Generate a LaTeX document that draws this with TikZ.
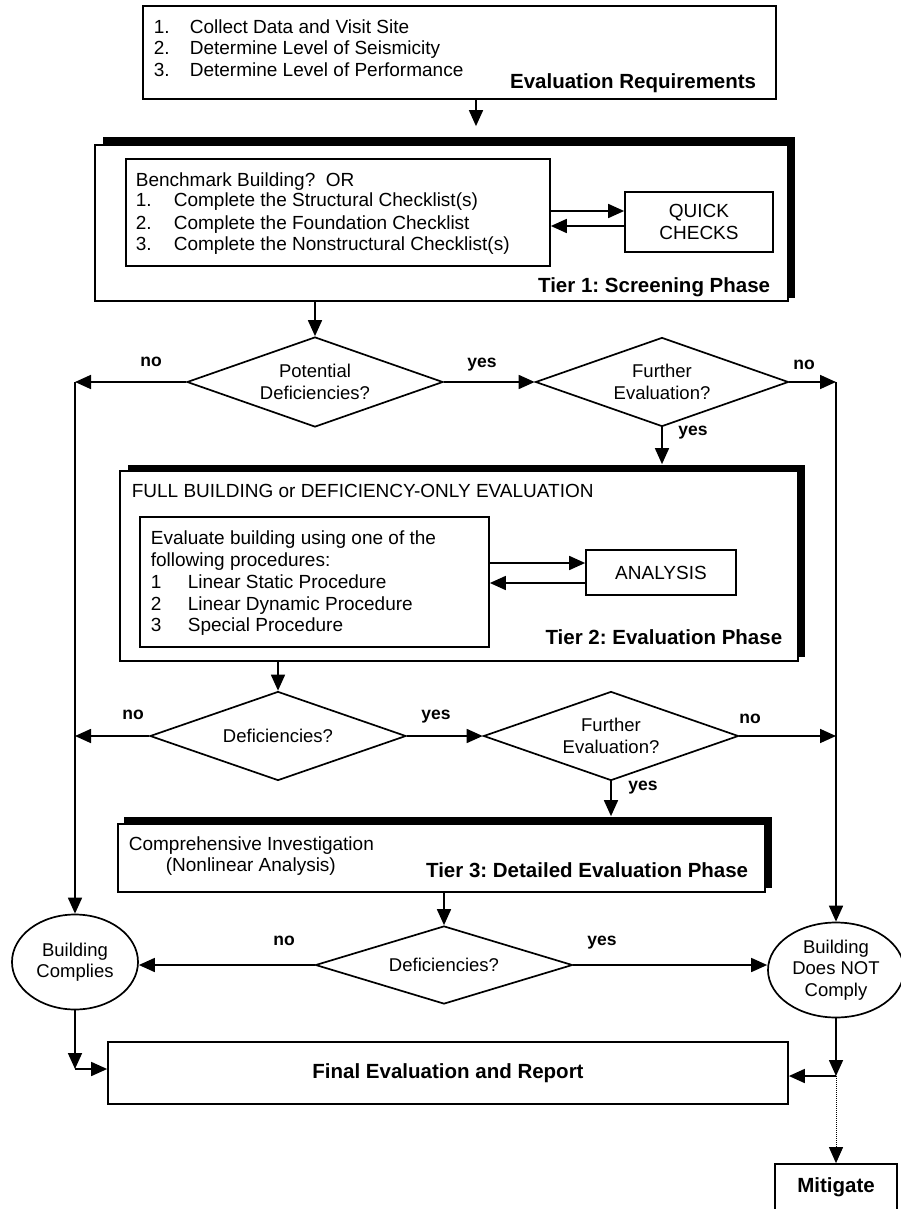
\documentclass[tikz,border=0pt]{standalone}
\usepackage{fontspec}
\setmainfont{Liberation Sans}
\usetikzlibrary{shapes.geometric,arrows.meta,calc}
\newcommand\fsR{\fontsize{19}{21.5}\selectfont}
\newcommand\fsB{\fontsize{20.5}{23}\selectfont\bfseries}
\newcommand\fsL{\fontsize{17.5}{20}\selectfont\bfseries}
\newcommand\fsD{\fontsize{18.5}{21.5}\selectfont}
\frenchspacing
\begin{document}
\begin{tikzpicture}[x=1pt,y=-1pt,line width=1.7pt,
  box/.style={draw,fill=white,rectangle,inner sep=0pt},
  shadowbox/.style={fill=black,draw=none,rectangle,inner sep=0pt},
  dia/.style={draw,diamond,aspect=2.85,inner sep=0pt,font=\fsD,align=center},
  oval/.style={draw,ellipse,inner sep=0pt,font=\fsD,align=center},
  txt/.style={inner sep=0pt,anchor=base west,font=\fsR},
  btxt/.style={inner sep=0pt,anchor=base east,font=\fsB},
  lab/.style={inner sep=0pt,anchor=mid,font=\fsL},
  arr/.style={-{Triangle[length=16pt,width=14pt]}}]
\useasboundingbox (0,0) rectangle (900,1209);

% Evaluation requirements
\node[box,minimum width=633pt,minimum height=93pt] (b1) at (459.5,52.5) {};
\node[txt] (r1n) at (153,34) {1.};
\node[txt] (r1t) at (189,34) {Collect Data and Visit Site};
\node[txt] (r2n) at (153,55) {2.};
\node[txt] (r2t) at (189,55) {Determine Level of Seismicity};
\node[txt] (r3n) at (153,77) {3.};
\node[txt] (r3t) at (189,77) {Determine Level of Performance};
\node[btxt] (rh) at (757,89) {Evaluation Requirements};

% Tier 1
\node[shadowbox,minimum width=692pt,minimum height=161pt] (t1s) at (449,217.5) {};
\node[box,minimum width=693pt,minimum height=156pt] (t1) at (441.5,223) {};
\node[box,minimum width=424pt,minimum height=107pt] (in1) at (338,212.5) {};
\node[txt] (s0) at (135,186) {Benchmark Building?\ \ OR};
\node[txt] (s1n) at (135,207) {1.};
\node[txt] (s1t) at (173,207) {Complete the Structural Checklist(s)};
\node[txt] (s2n) at (135,229) {2.};
\node[txt] (s2t) at (173,229) {Complete the Foundation Checklist};
\node[txt] (s3n) at (135,250) {3.};
\node[txt] (s3t) at (173,250) {Complete the Nonstructural Checklist(s)};
\node[box,minimum width=148pt,minimum height=60pt,font=\fsR,align=center] (qc) at (699,222) {QUICK\\CHECKS};
\node[btxt] (t1h) at (771,292) {Tier 1: Screening Phase};

% Tier 2
\node[shadowbox,minimum width=677pt,minimum height=192pt] (t2s) at (466.5,561) {};
\node[box,minimum width=678pt,minimum height=190pt] (t2) at (459,566) {};
\node[txt] (f0) at (131,497) {FULL BUILDING or DEFICIENCY-ONLY EVALUATION};
\node[box,minimum width=349pt,minimum height=130pt] (in2) at (314.5,582) {};
\node[txt] (e0) at (150,544) {Evaluate building using one of the};
\node[txt] (e1) at (150,566) {following procedures:};
\node[txt] (e2n) at (150,588) {1};
\node[txt] (e2t) at (187,588) {Linear Static Procedure};
\node[txt] (e3n) at (150,610) {2};
\node[txt] (e3t) at (187,610) {Linear Dynamic Procedure};
\node[txt] (e4n) at (150,631) {3};
\node[txt] (e4t) at (187,631) {Special Procedure};
\node[box,minimum width=150pt,minimum height=45pt,font=\fsR] (an) at (661,572.5) {ANALYSIS};
\node[btxt] (t2h) at (783,644) {Tier 2: Evaluation Phase};

% Tier 3
\node[shadowbox,minimum width=648pt,minimum height=71pt] (t3s) at (448,852.5) {};
\node[box,minimum width=647pt,minimum height=68pt] (t3) at (441.5,858) {};
\node[txt] (c0) at (128,850) {Comprehensive Investigation};
\node[txt] (c1) at (165,871) {(Nonlinear Analysis)};
\node[btxt] (t3h) at (749,877) {Tier 3: Detailed Evaluation Phase};

% Decisions
\node[dia,minimum width=256pt,minimum height=90pt] (d1) at (315,382) {Potential\\Deficiencies?};
\node[dia,minimum width=253pt,minimum height=89pt] (d2) at (662,382) {Further\\Evaluation?};
\node[dia,minimum width=256pt,minimum height=89pt] (d3) at (278,736) {Deficiencies?};
\node[dia,minimum width=255pt,minimum height=89pt] (d4) at (611,736) {Further\\Evaluation?};
\node[dia,minimum width=257pt,minimum height=78pt] (d5) at (444,965) {Deficiencies?};

% Outcomes
\node[oval,minimum width=126pt,minimum height=95pt] (bc) at (75,962) {Building\\Complies};
\node[oval,minimum width=136pt,minimum height=95pt] (bnc) at (836,970) {Building\\Does NOT\\Comply};
\node[box,minimum width=680pt,minimum height=62pt,font=\fsB] (fin) at (448,1073) {Final Evaluation and Report};
\node[box,minimum width=122pt,minimum height=47pt,font=\fsB] (mit) at (836,1187.5) {Mitigate};

% Connectors
\coordinate (a0) at (476,0);
\draw[arr] (b1.south -| a0) -- ($(t1s.north -| a0)+(0,-10)$);
\draw[arr] (in1.east |- 0,211) -- (qc.west |- 0,211);
\draw[arr] (qc.west |- 0,226) -- (in1.east |- 0,226);
\draw[arr] (t1.south -| d1.north) -- (d1.north);
\draw[arr] (d1.west) -- (d1.west -| bc.north);
\draw[arr] (d1.west -| bc.north) -- (bc.north);
\draw[arr] (d1.east) -- (d2.west);
\draw[arr] (d2.east) -- (d2.east -| bnc.north);
\draw[arr] (d2.east -| bnc.north) -- (bnc.north);
\draw[arr] (d2.south) -- (d2.south |- t2s.north);
\draw[arr] (in2.east |- 0,563) -- (an.west |- 0,563);
\draw[arr] (an.west |- 0,583) -- (in2.east |- 0,583);
\draw[arr] (t2.south -| d3.north) -- (d3.north);
\draw[arr] (d3.west) -- (d3.west -| bc.north);
\draw[arr] (d3.east) -- (d4.west);
\draw[arr] (d4.east) -- (d4.east -| bnc.north);
\draw[arr] (d4.south) -- (d4.south |- t3s.north);
\draw[arr] (t3.south -| d5.north) -- (d5.north);
\draw[arr] (d5.west) -- (d5.west -| bc.east);
\draw[arr] (d5.east) -- (d5.east -| bnc.west);
\coordinate (cL) at ($(bc.south |- fin.west)+(0,-4)$);
\draw[arr] (bc.south) -- (cL);
\draw[arr] (cL) -- (cL -| fin.west);
\coordinate (cR) at ($(bnc.south |- fin.east)+(0,3)$);
\draw[arr] (bnc.south) -- (cR);
\draw[arr] (cR) -- (cR -| fin.east);
\draw[arr,densely dotted,line width=1pt] (cR) -- (mit.north);

% Labels
\node[lab] (l1) at (151,364) {no};
\node[lab] (l2) at (482,365) {yes};
\node[lab] (l3) at (804,367) {no};
\node[lab] (l4) at (693,433) {yes};
\node[lab] (l5) at (133,717) {no};
\node[lab] (l6) at (436,717) {yes};
\node[lab] (l7) at (750,721) {no};
\node[lab] (l8) at (643,788) {yes};
\node[lab] (l9) at (284,943) {no};
\node[lab] (l10) at (602,943) {yes};
\end{tikzpicture}
\end{document}
